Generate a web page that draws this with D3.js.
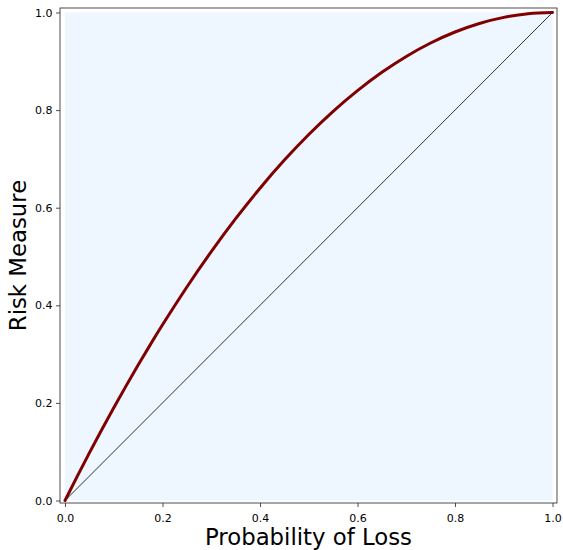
<!DOCTYPE html>
<html>
<head>
<meta charset="utf-8">
<script src="https://cdn.jsdelivr.net/npm/d3@7"></script>
<style>
  html, body { margin: 0; padding: 0; background: #fff; }
  svg { display: block; font-family: "DejaVu Sans", sans-serif; }
</style>
</head>
<body>
<svg id="chart" width="563" height="550"></svg>
<script>
// Probability of loss (x) and the corresponding distorted risk measure (y)
const probability = [0, 0.025, 0.05, 0.075, 0.10, 0.125, 0.15, 0.175, 0.20, 0.25, 0.30, 0.35, 0.40,
                     0.45, 0.50, 0.55, 0.60, 0.65, 0.70, 0.75, 0.80, 0.85, 0.90, 0.95, 1.00];
const riskMeasure = [0, 0.0494, 0.0975, 0.1444, 0.19, 0.2344, 0.2775, 0.3194, 0.36, 0.4375, 0.51, 0.5775, 0.64,
                     0.6975, 0.75, 0.7975, 0.84, 0.8775, 0.91, 0.9375, 0.96, 0.9775, 0.99, 0.9975, 1.00];
// Identity reference line endpoints
const identityX = [0, 1];
const identityY = [0, 1];
const xTicks = [0, 0.2, 0.4, 0.6, 0.8, 1.0];
const yTicks = [0, 0.2, 0.4, 0.6, 0.8, 1.0];

const svg = d3.select("#chart");
const frame = { left: 60, right: 557, top: 8, bottom: 503 };

const x = d3.scaleLinear().domain([-0.0103, 1.0092]).range([frame.left, frame.right]);
const y = d3.scaleLinear().domain([-0.0051, 1.0092]).range([frame.bottom, frame.top]);

// shaded unit square
svg.append("rect")
  .attr("x", x(0)).attr("y", y(1))
  .attr("width", x(1) - x(0)).attr("height", y(0) - y(1))
  .attr("fill", "#eef6ff");

// identity diagonal
svg.append("line")
  .attr("x1", x(identityX[0])).attr("y1", y(identityY[0]))
  .attr("x2", x(identityX[1])).attr("y2", y(identityY[1]))
  .attr("stroke", "#000").attr("stroke-width", 0.8);

// risk measure curve
const line = d3.line()
  .x((d, i) => x(probability[i]))
  .y((d, i) => y(riskMeasure[i]))
  .curve(d3.curveNatural);
svg.append("path")
  .datum(probability)
  .attr("d", line)
  .attr("fill", "none")
  .attr("stroke", "#800000")
  .attr("stroke-width", 3)
  .attr("stroke-linecap", "round");

// axes
const fmt = d3.format(".1f");
const xAxis = svg.append("g")
  .attr("transform", `translate(0,${frame.bottom})`)
  .call(d3.axisBottom(x).tickValues(xTicks).tickFormat(fmt).tickSizeOuter(0).tickSize(4).tickPadding(7.5));
const yAxis = svg.append("g")
  .attr("transform", `translate(${frame.left},0)`)
  .call(d3.axisLeft(y).tickValues(yTicks).tickFormat(fmt).tickSizeOuter(0).tickSize(4).tickPadding(3.5));
[xAxis, yAxis].forEach(g => {
  g.select(".domain").remove();
  g.selectAll("text").attr("font-size", 11).attr("fill", "#000")
    .attr("font-family", "DejaVu Sans, sans-serif");
  g.selectAll("line").attr("stroke", "#222").attr("stroke-width", 0.8);
});

// frame
svg.append("rect")
  .attr("x", frame.left).attr("y", frame.top)
  .attr("width", frame.right - frame.left).attr("height", frame.bottom - frame.top)
  .attr("fill", "none").attr("stroke", "#222").attr("stroke-width", 0.8);

// axis titles
svg.append("text")
  .attr("x", (frame.left + frame.right) / 2).attr("y", 545)
  .attr("text-anchor", "middle").attr("font-size", 22.8)
  .text("Probability of Loss");
svg.append("text")
  .attr("transform", `translate(26,${(frame.top + frame.bottom) / 2}) rotate(-90)`)
  .attr("text-anchor", "middle").attr("font-size", 22.8)
  .text("Risk Measure");
</script>
</body>
</html>
